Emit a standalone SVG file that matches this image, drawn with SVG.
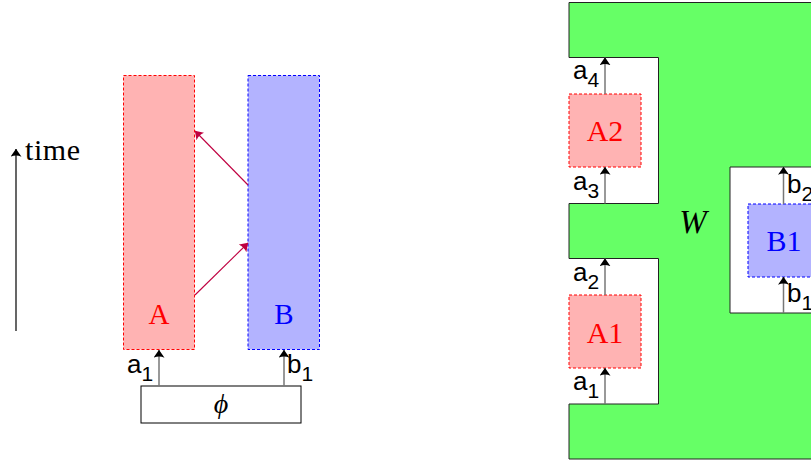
<svg xmlns="http://www.w3.org/2000/svg" width="811" height="460" viewBox="0 0 811 460">
<defs>
<marker id="ah" viewBox="0 0 8 11" refX="7.8" refY="5.5" markerWidth="8" markerHeight="11" markerUnits="userSpaceOnUse" orient="auto">
<path d="M0,0 Q2.5,5.5 0,11 L8,5.5 Z" fill="#000"/>
</marker>
<marker id="ahp" viewBox="0 0 8 11" refX="7.8" refY="5.5" markerWidth="8" markerHeight="11" markerUnits="userSpaceOnUse" orient="auto">
<path d="M0,0 Q2.5,5.5 0,11 L8,5.5 Z" fill="#bf0040"/>
</marker>
</defs>
<style>
.ra{fill:#ffb3b3;stroke:#ff0000;stroke-width:1;stroke-dasharray:3 2}
.rb{fill:#b3b3ff;stroke:#0000ff;stroke-width:1;stroke-dasharray:3 2}
.lbl{font-family:"Liberation Serif",serif;text-anchor:middle}
.sub{font-family:"Liberation Sans",Arial,sans-serif;font-size:26px;fill:#000}
.ar{stroke:#777;stroke-width:1.5;fill:none;marker-end:url(#ah)}
.pa{stroke:#bf0040;stroke-width:1.1;fill:none;marker-end:url(#ahp)}
</style>

<g id="time-axis">
<line x1="16" y1="331" x2="16" y2="149" stroke="#000" stroke-width="1.2" marker-end="url(#ah)"/>
<text x="25" y="160" font-family="Liberation Serif,serif" font-size="30" textLength="55" fill="#000">time</text>
</g>

<g id="A">
<rect class="ra" x="123.5" y="75.5" width="71" height="274"/>
<text class="lbl" x="159" y="324" font-size="29" fill="#ff0000">A</text>
</g>
<g id="B">
<rect class="rb" x="248" y="75.5" width="71.5" height="274"/>
<text class="lbl" x="284" y="324" font-size="29" fill="#0000ff">B</text>
</g>
<g id="phi">
<rect x="141" y="386" width="160" height="37" fill="#fff" stroke="#000" stroke-width="1"/>
<text class="lbl" x="221" y="413" font-size="28" font-style="italic" fill="#000">ϕ</text>
</g>

<g id="W">
<path fill="#66ff66" fill-rule="evenodd" stroke="#222" stroke-width="1"
 d="M815,2.5 H569 V57.5 H658.5 V203.5 H569 V258.5 H658.5 V404 H569 V459 H815 Z M815,167 H730 V313 H815 Z"/>
<text x="693" y="233" font-family="Liberation Serif,serif" font-size="33" font-style="italic" text-anchor="middle" fill="#000">W</text>
</g>
<g id="A2">
<rect class="ra" x="569" y="94" width="72" height="73"/>
<text class="lbl" x="605" y="141" font-size="30" fill="#ff0000">A2</text>
</g>
<g id="A1">
<rect class="ra" x="569" y="295" width="72" height="73"/>
<text class="lbl" x="605" y="343" font-size="30" fill="#ff0000">A1</text>
</g>
<g id="B1">
<rect class="rb" x="748" y="204" width="72" height="73"/>
<text class="lbl" x="784" y="251" font-size="30" fill="#0000ff">B1</text>
</g>

<g id="connectors">
<line class="pa" x1="248" y1="185" x2="195" y2="131"/>
<line class="pa" x1="195" y1="295" x2="248" y2="243"/>
<line class="ar" x1="159" y1="386" x2="159" y2="350"/>
<line class="ar" x1="284" y1="386" x2="284" y2="350"/>
<line class="ar" x1="605" y1="94" x2="605" y2="57.5"/>
<line class="ar" x1="605" y1="203.5" x2="605" y2="167"/>
<line class="ar" x1="605" y1="295" x2="605" y2="258.5"/>
<line class="ar" x1="605" y1="404" x2="605" y2="368"/>
<line class="ar" x1="783.5" y1="204" x2="783.5" y2="167"/>
<line class="ar" x1="783.5" y1="313" x2="783.5" y2="277"/>
</g>

<g id="labels">
<text class="sub" x="127" y="373">a<tspan dy="8" font-size="21">1</tspan></text>
<text class="sub" x="287" y="373">b<tspan dy="8" font-size="21">1</tspan></text>
<text class="sub" x="573" y="79">a<tspan dy="8" font-size="21">4</tspan></text>
<text class="sub" x="573" y="190">a<tspan dy="8" font-size="21">3</tspan></text>
<text class="sub" x="573" y="281">a<tspan dy="8" font-size="21">2</tspan></text>
<text class="sub" x="573" y="390">a<tspan dy="8" font-size="21">1</tspan></text>
<text class="sub" x="787" y="193">b<tspan dy="8" font-size="21">2</tspan></text>
<text class="sub" x="787" y="302">b<tspan dy="8" font-size="21">1</tspan></text>
</g>
</svg>
